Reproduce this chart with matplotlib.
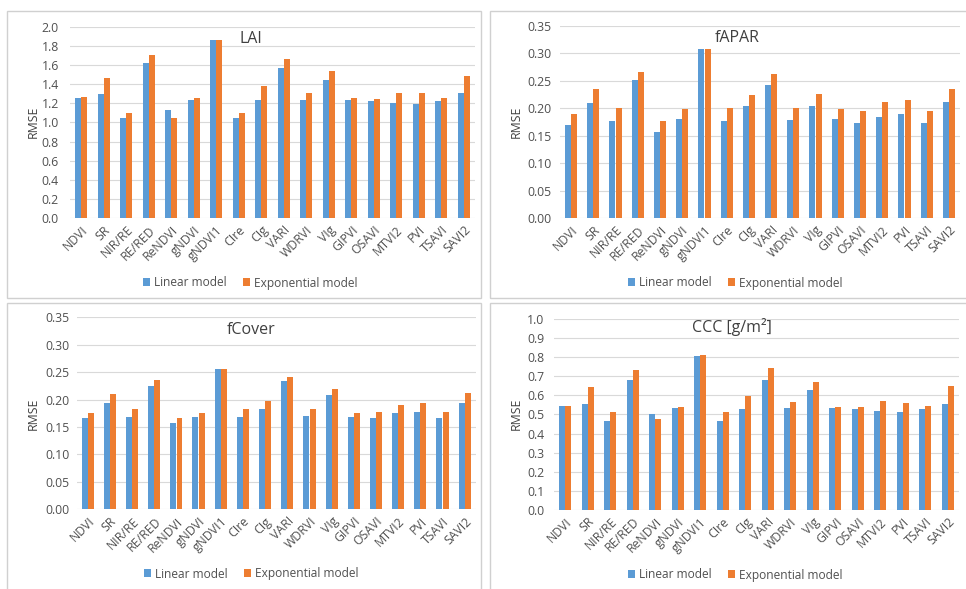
import matplotlib
matplotlib.use("Agg")
import matplotlib.pyplot as plt
from matplotlib.patches import Rectangle, Patch
import numpy as np

plt.rcParams['font.family'] = ['Open Sans', 'DejaVu Sans']

indices = ["NDVI", "SR", "NIR/RE", "RE/RED", "ReNDVI", "gNDVI", "gNDVI1", "CIre",
           "CIg", "VARI", "WDRVI", "VIg", "GIPVI", "OSAVI", "MTVI2", "PVI",
           "TSAVI", "SAVI2"]

lai_linear = [1.26, 1.30, 1.05, 1.62, 1.13, 1.24, 1.86, 1.05, 1.24, 1.57, 1.24,
              1.45, 1.24, 1.22, 1.20, 1.19, 1.22, 1.31]
lai_exp = [1.27, 1.47, 1.10, 1.71, 1.05, 1.26, 1.86, 1.10, 1.38, 1.67, 1.31,
           1.54, 1.26, 1.25, 1.31, 1.31, 1.26, 1.49]

fapar_linear = [0.170, 0.210, 0.176, 0.251, 0.156, 0.181, 0.308, 0.176, 0.204,
                0.243, 0.178, 0.204, 0.181, 0.173, 0.185, 0.190, 0.173, 0.211]
fapar_exp = [0.189, 0.235, 0.201, 0.266, 0.177, 0.198, 0.308, 0.201, 0.225,
             0.262, 0.200, 0.226, 0.198, 0.195, 0.211, 0.215, 0.195, 0.236]

fcover_linear = [0.166, 0.193, 0.168, 0.225, 0.157, 0.168, 0.255, 0.168, 0.182,
                 0.234, 0.170, 0.208, 0.168, 0.166, 0.176, 0.177, 0.166, 0.193]
fcover_exp = [0.175, 0.210, 0.183, 0.235, 0.167, 0.176, 0.255, 0.183, 0.198,
              0.242, 0.183, 0.219, 0.176, 0.177, 0.191, 0.193, 0.177, 0.212]

ccc_linear = [0.546, 0.553, 0.464, 0.683, 0.501, 0.532, 0.807, 0.464, 0.527,
              0.681, 0.532, 0.630, 0.532, 0.527, 0.518, 0.511, 0.529, 0.557]
ccc_exp = [0.546, 0.644, 0.513, 0.732, 0.478, 0.539, 0.811, 0.513, 0.597,
           0.746, 0.564, 0.669, 0.539, 0.539, 0.571, 0.559, 0.543, 0.648]

series_names = ["Linear model", "Exponential model"]
BLUE = "#5B9BD5"
ORANGE = "#ED7D31"
GRID = "#D9D9D9"
TEXT = "#404040"
TICK = "#505050"

W, H = 966, 589
fig = plt.figure(figsize=(W / 100, H / 100), dpi=100)


def rect(l, t, r, b):
    return [l / W, 1 - b / H, (r - l) / W, (b - t) / H]


def fx(x):
    return x / W


def fy(y):
    return 1 - y / H


# light frames around each chart area
for (l, t, r, b) in [(7, 11, 481, 298), (490, 11, 975, 298),
                     (7, 303, 481, 600), (490, 303, 975, 600)]:
    fig.add_artist(Rectangle((fx(l), fy(b)), (r - l) / W, (b - t) / H,
                             transform=fig.transFigure, fill=False,
                             edgecolor="#D0D0D0", lw=1.0))

panels = [
    dict(title="LAI", lin=lai_linear, exp=lai_exp, box=(70, 27, 475, 218),
         ylim=2.0, step=0.2, fmt="{:.1f}", pad=8, title_xy=(251, 39),
         ylab_xy=(33, 122), leg_xy=(250, 283)),
    dict(title="fAPAR", lin=fapar_linear, exp=fapar_exp, box=(560, 26, 960, 218),
         ylim=0.35, step=0.05, fmt="{:.2f}", pad=6, title_xy=(737, 38),
         ylab_xy=(516, 122), leg_xy=(735, 283)),
    dict(title="fCover", lin=fcover_linear, exp=fcover_exp, box=(76.6, 317.3, 475.8, 509.3),
         ylim=0.35, step=0.05, fmt="{:.2f}", pad=5, title_xy=(251, 330),
         ylab_xy=(33, 414), leg_xy=(251, 574)),
    dict(title="CCC [g/m²]", lin=ccc_linear, exp=ccc_exp, box=(554, 319.3, 959, 509.7),
         ylim=1.0, step=0.1, fmt="{:.1f}", pad=7, title_xy=(732, 327),
         ylab_xy=(516, 414), leg_xy=(735, 575)),
]

x = np.arange(len(indices))
bw = 0.27
for p in panels:
    ax = fig.add_axes(rect(*p["box"]))
    ax.bar(x - 0.14, p["lin"], width=bw, color=BLUE, zorder=3)
    ax.bar(x + 0.14, p["exp"], width=bw, color=ORANGE, zorder=3)
    ax.set_xlim(-0.5, len(indices) - 0.5)
    ax.set_ylim(0, p["ylim"])
    yt = np.arange(0, p["ylim"] + p["step"] / 2, p["step"])
    ax.set_yticks(yt)
    ax.set_yticklabels([p["fmt"].format(v) for v in yt])
    ax.set_xticks(x)
    ax.set_xticklabels(indices, rotation=45, ha="right", va="top",
                       rotation_mode="anchor")
    ax.tick_params(length=0, labelsize=8.8, labelcolor=TICK)
    ax.tick_params(axis="y", pad=p["pad"])
    ax.tick_params(axis="x", pad=4)
    ax.grid(axis="y", color=GRID, lw=0.8, zorder=0)
    for s in ax.spines.values():
        s.set_visible(False)
    ax.set_facecolor("none")
    fig.text(fx(p["title_xy"][0]), fy(p["title_xy"][1]), p["title"],
             ha="center", va="center", fontsize=11.5, color=TEXT)
    fig.text(fx(p["ylab_xy"][0]), fy(p["ylab_xy"][1]), "RMSE", rotation=90,
             ha="center", va="center", fontsize=8.8, color=TEXT)
    handles = [Patch(facecolor=BLUE), Patch(facecolor=ORANGE)]
    fig.legend(handles, series_names, loc="center", ncol=2, frameon=False,
               bbox_to_anchor=(fx(p["leg_xy"][0]), fy(p["leg_xy"][1])),
               fontsize=8.6, labelcolor=TICK, handlelength=0.6,
               handleheight=0.6, handletextpad=0.3, columnspacing=1.4)

fig.savefig("out.png", dpi=100, facecolor="white")
